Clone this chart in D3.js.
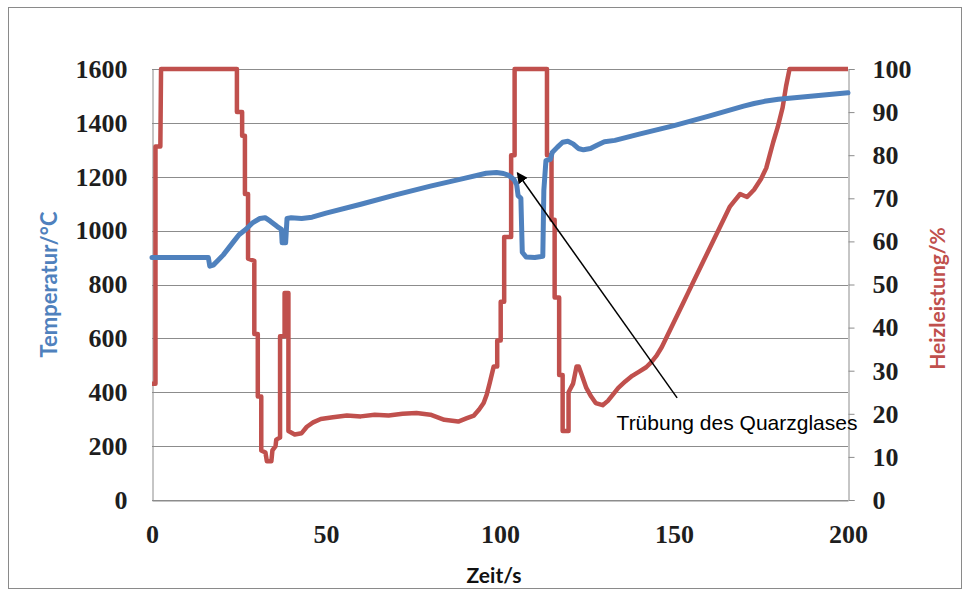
<!DOCTYPE html>
<html>
<head>
<meta charset="utf-8">
<script src="https://cdn.jsdelivr.net/npm/d3@7"></script>
<style>
  html, body { margin: 0; padding: 0; background: #fff; }
  svg { display: block; }
</style>
</head>
<body>
<svg id="chart" width="963" height="590"></svg>
<script>
// Axis tick values
const timeTicks = [0, 50, 100, 150, 200];
const tempTicks = [0, 200, 400, 600, 800, 1000, 1200, 1400, 1600];
const powerTicks = [0, 10, 20, 30, 40, 50, 60, 70, 80, 90, 100];

// Temperatur in °C over Zeit in s
const tempTime = [0, 16.2, 16.6, 17.6, 19, 20.5, 22, 23.5, 25, 27, 29, 31, 32.5, 34, 36, 37.2, 37.4, 38.4, 38.8, 40, 43, 46, 50, 60, 70, 80, 90, 96, 99, 101, 102.5, 104, 104.8, 105.2, 106, 106.4, 107.5, 110, 112.3, 112.6, 113.2, 114.5, 115, 116.5, 118, 119.5, 121, 122.5, 124, 126, 128, 130, 133, 140, 150, 160, 170, 173, 176, 180, 190, 200];
const tempValue = [900, 900, 868, 872, 890, 910, 935, 960, 985, 1005, 1030, 1045, 1048, 1035, 1015, 1005, 955, 955, 1045, 1048, 1045, 1050, 1065, 1098, 1133, 1165, 1195, 1213, 1216, 1212, 1205, 1190, 1170, 1130, 1120, 920, 902, 900, 905, 1150, 1260, 1265, 1290, 1310, 1328, 1332, 1322, 1305, 1300, 1305, 1318, 1330, 1335, 1358, 1390, 1425, 1462, 1472, 1480, 1488, 1500, 1512];

// Heizleistung in % over Zeit in s (repeated times mark switching steps)
const powerTime = [0, 1.0, 1.0, 2.4, 2.6, 24.4, 24.4, 25.9, 25.9, 26.7, 26.7, 27.6, 27.6, 29.4, 29.4, 30.4, 30.4, 31.4, 31.4, 32.6, 33, 34.3, 34.6, 35.5, 35.7, 36.8, 36.8, 38.1, 38.1, 39.2, 39.2, 41, 43, 44.5, 46.3, 48.5, 52, 56, 60, 64, 68, 72, 76, 80, 84, 88, 90.5, 92.5, 94, 95.3, 96.2, 97, 98.2, 99.2, 99.2, 100.2, 100.2, 101.2, 101.2, 103.2, 103.2, 104.2, 104.2, 113.5, 113.5, 114.8, 114.8, 115.7, 115.7, 117, 117, 118, 118, 119.7, 119.7, 121, 122, 122.6, 123.5, 124.8, 126.2, 127.5, 129.5, 131, 132.5, 134, 136, 138, 140, 142, 143.5, 145, 146.5, 148, 149.5, 151, 152.5, 154, 155.5, 157, 158.5, 160, 161.5, 163, 164.5, 166, 167.5, 169, 171, 173, 175, 176.5, 177.5, 178.5, 179.8, 181.2, 182.2, 183.2, 200];
const powerValue = [27, 27, 82, 82, 100, 100, 90, 90, 84.5, 84.5, 71, 71, 56, 55.5, 38.5, 38.5, 24, 24, 11.5, 11, 9, 9, 11.5, 12.5, 14, 14.5, 38, 38, 48, 48, 16, 15.2, 15.5, 17, 18, 18.8, 19.2, 19.6, 19.4, 19.8, 19.6, 20, 20.2, 19.8, 18.6, 18.2, 19, 19.6, 21, 22.5, 24.5, 27, 31, 31, 37, 37, 46, 46, 61, 61, 80, 80, 100, 100, 80, 80, 65, 65, 47, 47, 29, 29, 16, 16, 25, 27, 31, 31, 29, 26, 24, 22.5, 22, 23, 24.5, 26, 27.5, 28.8, 29.8, 30.8, 32, 33.5, 35.5, 38, 40.5, 43, 45.5, 48, 50.5, 53, 55.5, 58, 60.5, 63, 65.5, 68, 69.5, 71, 70.3, 72, 74.5, 77, 80, 83, 86.5, 91, 96, 100, 100];

// Annotation: arrow from the label to the point of clouding
const noteText = "Trübung des Quarzglases";
const noteTip = [105, 1214];
const noteTail = [150.9, 379];
const noteAnchor = [133.5, 260];

const svg = d3.select("#chart");
const plot = { left: 152, right: 848, top: 69, bottom: 500 };

const x = d3.scaleLinear().domain([0, 200]).range([plot.left, plot.right]);
const yT = d3.scaleLinear().domain([0, 1600]).range([plot.bottom, plot.top]);
const yP = d3.scaleLinear().domain([0, 100]).range([plot.bottom, plot.top]);

const blue = "#4F81BD", red = "#C0504D", grid = "#8c8c8c";
const tickFont = "'Liberation Serif', 'Times New Roman', serif";
const titleFont = "Lato, 'Open Sans', sans-serif";

// Outer chart frame
svg.append("rect")
  .attr("x", 8.5).attr("y", 7.5)
  .attr("width", 953).attr("height", 581)
  .attr("fill", "#fff").attr("stroke", "#8a8a8a").attr("stroke-width", 1);

// Horizontal gridlines on the temperature scale
svg.append("g").selectAll("line").data(tempTicks).join("line")
  .attr("x1", plot.left).attr("x2", plot.right)
  .attr("y1", d => Math.round(yT(d)) + 0.5).attr("y2", d => Math.round(yT(d)) + 0.5)
  .attr("stroke", grid).attr("stroke-width", 1);

function styleTicks(g) {
  g.select(".domain").attr("stroke", grid);
  g.selectAll(".tick line").attr("stroke", grid);
  g.selectAll("text").attr("font-family", tickFont).attr("font-weight", "bold")
    .attr("font-size", 26).attr("fill", "#1e1e1e");
}

// Left axis (Temperatur)
svg.append("g").attr("transform", `translate(${plot.left + 0.5},0)`)
  .call(d3.axisLeft(yT).tickValues(tempTicks).tickFormat(d3.format("d")).tickSize(0).tickPadding(25))
  .call(styleTicks);

// Right axis (Heizleistung)
svg.append("g").attr("transform", `translate(${plot.right + 0.5},0)`)
  .call(d3.axisRight(yP).tickValues(powerTicks).tickFormat(d3.format("d")).tickSize(6).tickPadding(18))
  .call(styleTicks);

// Bottom axis (Zeit)
svg.append("g").attr("transform", `translate(0,${plot.bottom + 0.5})`)
  .call(d3.axisBottom(x).tickValues(timeTicks).tickFormat(d3.format("d")).tickSize(0).tickPadding(24))
  .call(styleTicks);

// Series lines
const tempData = tempTime.map((t, i) => [t, tempValue[i]]);
const powerData = powerTime.map((t, i) => [t, powerValue[i]]);

svg.append("path").datum(powerData)
  .attr("d", d3.line().x(d => x(d[0])).y(d => yP(d[1])))
  .attr("fill", "none").attr("stroke", red).attr("stroke-width", 4.5)
  .attr("stroke-linejoin", "round");

svg.append("path").datum(tempData)
  .attr("d", d3.line().x(d => x(d[0])).y(d => yT(d[1])))
  .attr("fill", "none").attr("stroke", blue).attr("stroke-width", 5)
  .attr("stroke-linejoin", "round").attr("stroke-linecap", "round");

// Axis titles
svg.append("text")
  .attr("transform", `translate(57,${(plot.top + plot.bottom) / 2}) rotate(-90)`)
  .attr("text-anchor", "middle")
  .attr("font-family", titleFont).attr("font-weight", "bold").attr("font-size", 22)
  .attr("fill", blue).text("Temperatur/°C");

svg.append("text")
  .attr("transform", `translate(945,${(plot.top + plot.bottom) / 2 + 14}) rotate(-90)`)
  .attr("text-anchor", "middle")
  .attr("font-family", titleFont).attr("font-weight", "bold").attr("font-size", 21)
  .attr("fill", red).text("Heizleistung/%");

svg.append("text")
  .attr("x", (plot.left + plot.right) / 2 - 6).attr("y", 583)
  .attr("text-anchor", "middle")
  .attr("font-family", titleFont).attr("font-weight", "bold").attr("font-size", 21)
  .attr("fill", "#111").text("Zeit/s");

// Annotation arrow and label
svg.append("defs").append("marker")
  .attr("id", "arrowHead").attr("viewBox", "0 0 10 10")
  .attr("refX", 9).attr("refY", 5)
  .attr("markerWidth", 11).attr("markerHeight", 11)
  .attr("markerUnits", "userSpaceOnUse")
  .attr("orient", "auto")
  .append("path").attr("d", "M0,0 L10,5 L0,10 Z").attr("fill", "#000");

svg.append("line")
  .attr("x1", x(noteTail[0])).attr("y1", yT(noteTail[1]))
  .attr("x2", x(noteTip[0])).attr("y2", yT(noteTip[1]))
  .attr("stroke", "#000").attr("stroke-width", 1.5)
  .attr("marker-end", "url(#arrowHead)");

svg.append("text")
  .attr("x", x(noteAnchor[0])).attr("y", yT(noteAnchor[1]))
  .attr("font-family", "'Liberation Sans', Arial, sans-serif").attr("font-size", 21)
  .attr("fill", "#000").text(noteText);
</script>
</body>
</html>
